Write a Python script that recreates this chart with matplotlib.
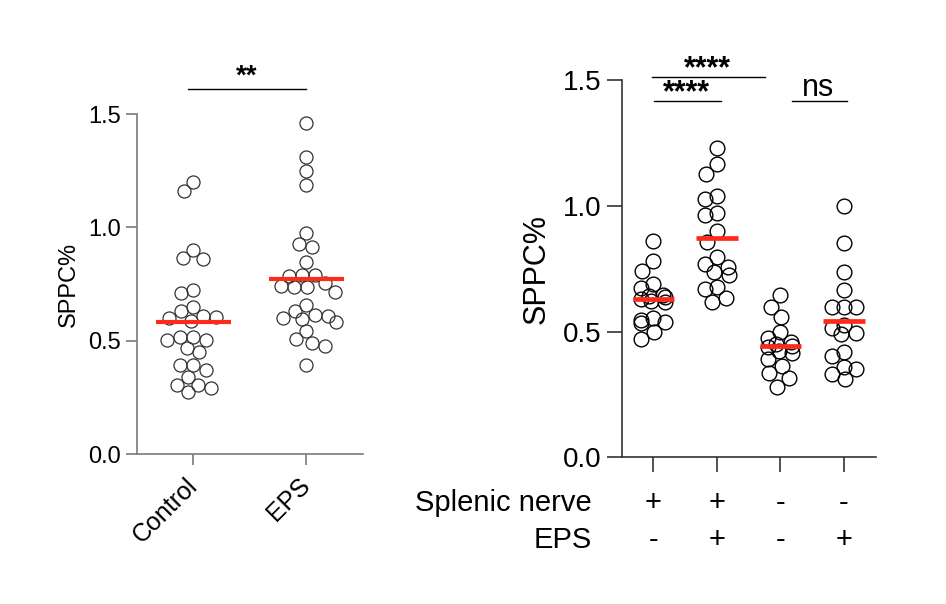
import numpy as np
import matplotlib
matplotlib.use('Agg')
import matplotlib.pyplot as plt

plt.rcParams['font.family'] = ['Liberation Sans', 'DejaVu Sans']

# left panel data
left_groups = ['Control', 'EPS']
control = [1.199, 1.159, 0.901, 0.863, 0.860, 0.725, 0.709, 0.647, 0.629,
           0.610, 0.603, 0.599, 0.588, 0.518, 0.518, 0.503, 0.503, 0.468,
           0.449, 0.393, 0.393, 0.371, 0.341, 0.306, 0.306, 0.291, 0.272]
eps = [1.460, 1.309, 1.250, 1.188, 0.974, 0.926, 0.912, 0.846, 0.791, 0.791,
       0.787, 0.753, 0.743, 0.738, 0.735, 0.716, 0.657, 0.629, 0.613, 0.610,
       0.599, 0.596, 0.581, 0.541, 0.507, 0.490, 0.475, 0.393]

# right panel data
nerve_on_eps_off = [0.862, 0.782, 0.743, 0.688, 0.675, 0.646, 0.643, 0.639, 0.630,
                    0.622, 0.617, 0.553, 0.547, 0.537, 0.533, 0.498, 0.471]
nerve_on_eps_on = [1.229, 1.167, 1.127, 1.040, 1.028, 0.973, 0.964, 0.900, 0.858,
                   0.798, 0.768, 0.759, 0.739, 0.726, 0.679, 0.670, 0.633, 0.617]
nerve_off_eps_off = [0.645, 0.600, 0.560, 0.500, 0.475, 0.460, 0.445, 0.440, 0.450,
                     0.425, 0.415, 0.390, 0.365, 0.335, 0.315, 0.281]
nerve_off_eps_on = [1.000, 0.854, 0.739, 0.666, 0.600, 0.597, 0.600, 0.527, 0.513,
                    0.496, 0.491, 0.420, 0.403, 0.358, 0.350, 0.332, 0.311]
splenic_row = ['+', '+', '-', '-']
eps_row = ['-', '+', '-', '+']

RED = '#ff2a1a'


def swarm_offsets(ax, x0, vals, diam, maxw, step=0.5):
    # simple beeswarm in pixel space, returns x positions in data units
    vals = np.asarray(vals, dtype=float)
    ys = ax.transData.transform(np.column_stack([np.full(len(vals), x0), vals]))[:, 1]
    ppu = ax.transData.transform((1, 0))[0] - ax.transData.transform((0, 0))[0]
    cand = np.arange(-maxw, maxw + step / 2, step)
    cand = cand[np.argsort(np.abs(cand), kind='stable')]
    placed = []
    offs = np.zeros(len(vals))
    for i in np.argsort(-vals, kind='stable'):
        best, best_pen = 0.0, None
        for c in cand:
            pen = 0.0
            for px, py in placed:
                d = np.hypot(c - px, ys[i] - py)
                if d < diam:
                    pen += diam - d
            if pen == 0:
                best = c
                break
            if best_pen is None or pen < best_pen - 1e-9:
                best, best_pen = c, pen
        placed.append((best, ys[i]))
        offs[i] = best
    return x0 + offs / ppu


fig = plt.figure(figsize=(9.46, 6.04), dpi=100)

# ---------------- left panel ----------------
ax1 = fig.add_axes([0.1445, 0.2483, 0.2392, 0.5629])
ax1.set_xlim(-0.5, 1.5)
ax1.set_ylim(0, 1.5)
grey = '#7a7a7a'
for s in ['top', 'right']:
    ax1.spines[s].set_visible(False)
for s in ['left', 'bottom']:
    ax1.spines[s].set_color(grey)
    ax1.spines[s].set_linewidth(1.2)
ax1.tick_params(colors=grey, width=1.2, length=8, labelsize=17, labelcolor='black')
ax1.set_yticks([0.0, 0.5, 1.0, 1.5])
ax1.set_yticklabels(['0.0', '0.5', '1.0', '1.5'])
ax1.set_xticks([0, 1])
ax1.set_xticklabels(left_groups, rotation=45, ha='right', va='center',
                    rotation_mode='anchor', fontsize=18)
ax1.tick_params(axis='x', pad=12)
ax1.set_ylabel('SPPC%', fontsize=17, labelpad=6)

for i, vals in enumerate([control, eps]):
    xs = swarm_offsets(ax1, i, vals, diam=13.0, maxw=30)
    ax1.plot(xs, vals, 'o', ms=9.4, mfc='none', mec='#333333', mew=0.9,
             clip_on=False, zorder=3)
    ax1.hlines(np.mean(vals), i - 0.33, i + 0.33, color=RED, lw=3.0, zorder=4)

ax1.plot([-0.05, 1.0], [1.611, 1.611], color='black', lw=1.0, clip_on=False)
ax1.text(0.475, 1.633, '**', ha='center', va='baseline', fontsize=20,
         fontweight='bold', clip_on=False)

# ---------------- right panel ----------------
ax2 = fig.add_axes([0.6572, 0.2427, 0.2685, 0.6244])
ax2.set_xlim(-0.5, 3.5)
ax2.set_ylim(0, 1.5)
dark = '#333333'
for s in ['top', 'right']:
    ax2.spines[s].set_visible(False)
for s in ['left', 'bottom']:
    ax2.spines[s].set_color(dark)
    ax2.spines[s].set_linewidth(1.2)
ax2.tick_params(colors=dark, width=1.2, length=11, labelsize=20, labelcolor='black')
ax2.set_yticks([0.0, 0.5, 1.0, 1.5])
ax2.set_yticklabels(['0.0', '0.5', '1.0', '1.5'])
ax2.set_xticks([0, 1, 2, 3])
ax2.set_xticklabels([])
ax2.set_ylabel('SPPC%', fontsize=22, labelpad=8)

right_groups = [nerve_on_eps_off, nerve_on_eps_on, nerve_off_eps_off, nerve_off_eps_on]
for i, vals in enumerate(right_groups):
    xs = swarm_offsets(ax2, i, vals, diam=14.5, maxw=12)
    ax2.plot(xs, vals, 'o', ms=10.6, mfc='none', mec='black', mew=1.0,
             clip_on=False, zorder=3)
    ax2.hlines(np.mean(vals), i - 0.33, i + 0.33, color=RED, lw=3.4, zorder=4)

# significance marks
ax2.plot([-0.02, 1.76], [1.514, 1.514], color='black', lw=1.0, clip_on=False)
ax2.text(0.85, 1.514, '****', ha='center', va='baseline', fontsize=22,
         fontweight='bold', clip_on=False)
ax2.plot([0.01, 1.06], [1.418, 1.418], color='black', lw=1.0, clip_on=False)
ax2.text(0.52, 1.418, '****', ha='center', va='baseline', fontsize=22,
         fontweight='bold', clip_on=False)
ax2.plot([2.175, 3.04], [1.418, 1.418], color='black', lw=1.0, clip_on=False)
ax2.text(2.6, 1.437, 'ns', ha='center', va='baseline', fontsize=22, clip_on=False)

# condition table under the right panel
tr = ax2.get_xaxis_transform()
ax2.text(-0.97, -0.121, 'Splenic nerve', transform=tr, ha='right', va='center',
         fontsize=21, clip_on=False)
ax2.text(-0.97, -0.219, 'EPS', transform=tr, ha='right', va='center',
         fontsize=21, clip_on=False)
for i in range(4):
    ax2.text(i, -0.121, splenic_row[i], transform=tr, ha='center', va='center',
             fontsize=21, clip_on=False)
    ax2.text(i, -0.219, eps_row[i], transform=tr, ha='center', va='center',
             fontsize=21, clip_on=False)

fig.savefig('out.png', dpi=100)
